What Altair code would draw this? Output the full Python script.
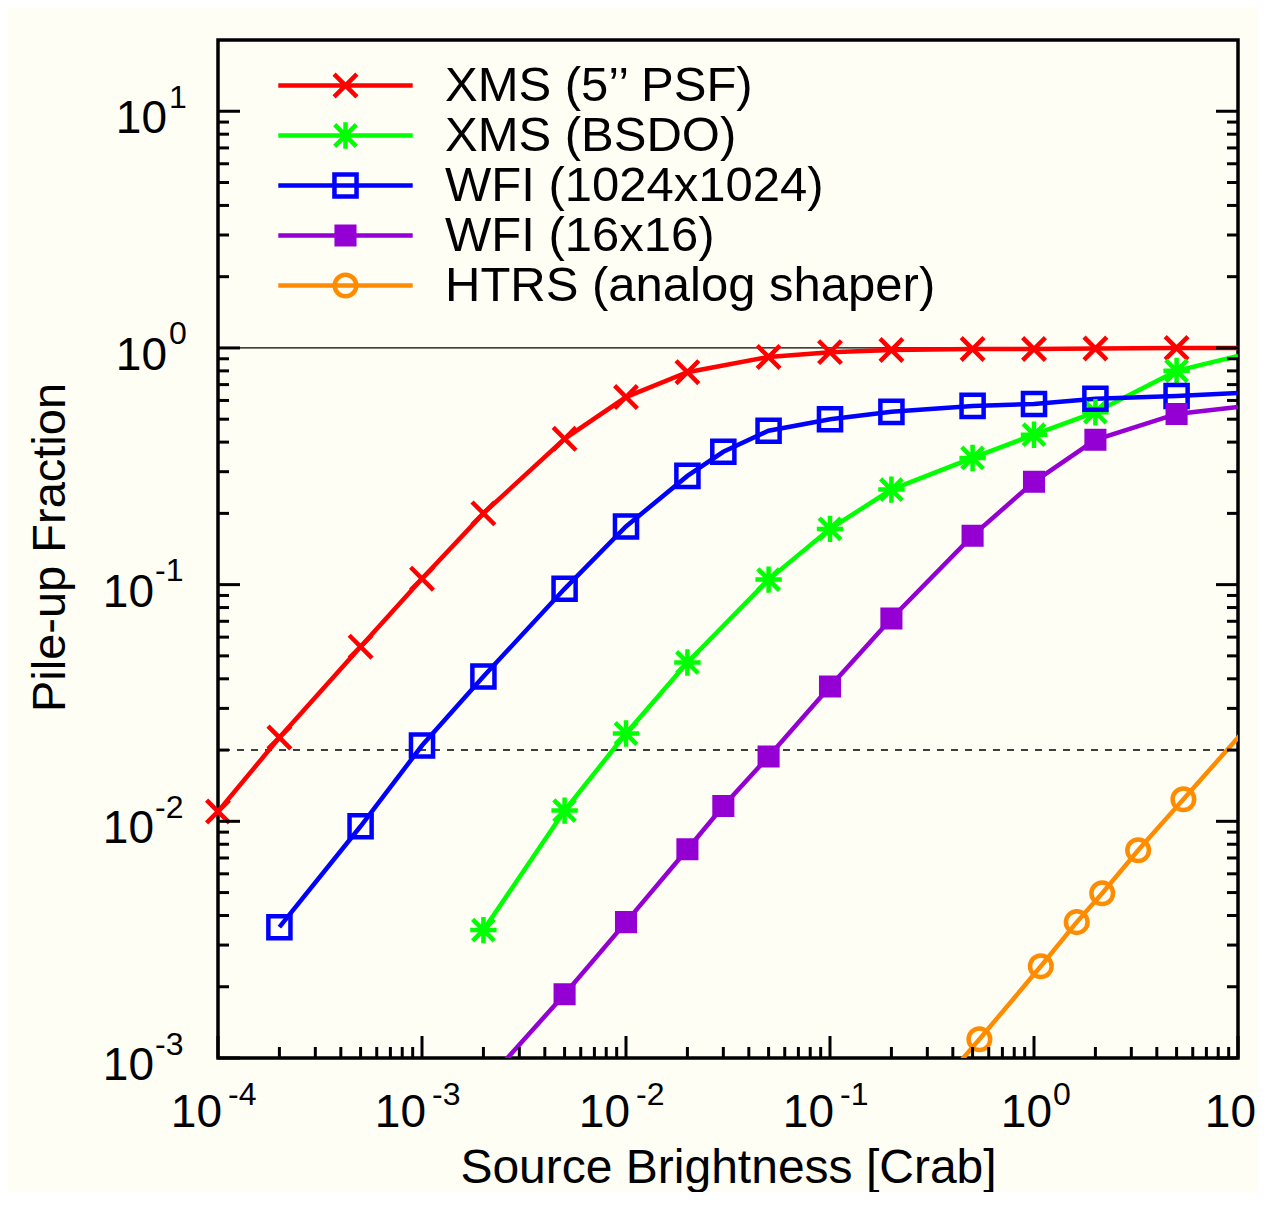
import altair as alt
import pandas as pd

FONT = "Liberation Sans"
W, H = 1020, 1018

# ---------------- data ----------------
names = ["XMS (5\u2019\u2019 PSF)", "XMS (BSDO)", "WFI (1024x1024)", "WFI (16x16)", "HTRS (analog shaper)"]
colors = ["#ff0000", "#00ff00", "#0000ff", "#9400d3", "#ff8c00"]

x_red = [1e-4, 2e-4, 5e-4, 1e-3, 2e-3, 5e-3, 1e-2, 2e-2, 5e-2, 0.1, 0.2, 0.5, 1, 2, 5, 10]
y_red = [0.011, 0.0226, 0.0547, 0.106, 0.200, 0.413, 0.62, 0.79, 0.916, 0.96, 0.98, 0.99, 0.99, 0.995, 1.0, 1.0]

x_green = [2e-3, 5e-3, 1e-2, 2e-2, 5e-2, 0.1, 0.2, 0.5, 1, 2, 5, 10]
y_green = [0.00347, 0.0111, 0.0235, 0.0469, 0.105, 0.172, 0.252, 0.343, 0.43, 0.535, 0.80, 0.925]

x_blue = [2e-4, 5e-4, 1e-3, 2e-3, 5e-3, 1e-2, 2e-2, 3e-2, 5e-2, 0.1, 0.2, 0.5, 1, 2, 5, 10]
y_blue = [0.00357, 0.00953, 0.0209, 0.0409, 0.096, 0.176, 0.288, 0.364, 0.447, 0.50, 0.537, 0.569, 0.58, 0.61, 0.627, 0.645]

x_purple = [2e-3, 5e-3, 1e-2, 2e-2, 3e-2, 5e-2, 0.1, 0.2, 0.5, 1, 2, 5, 10]
y_purple = [0.00077, 0.00186, 0.00375, 0.00762, 0.0116, 0.0188, 0.0371, 0.0719, 0.161, 0.272, 0.409, 0.526, 0.563]

x_orange = [0.27, 0.54, 1.08, 1.62, 2.16, 3.24, 5.4, 10.8]
y_orange = [0.0006, 0.0012, 0.00244, 0.00375, 0.00497, 0.00755, 0.0124, 0.0243]

ref_solid_y = [1.0]
ref_dash_y = [0.02]

x_major = [1e-4, 1e-3, 1e-2, 1e-1, 1, 10]
x_exp = ["-4", "-3", "-2", "-1", "0", "1"]
x_minor = [k * 10.0 ** d for d in range(-4, 1) for k in range(2, 10)]
y_major = [1e-3, 1e-2, 1e-1, 1, 10]
y_exp = ["-3", "-2", "-1", "0", "1"]
y_minor = [k * 10.0 ** d for d in range(-3, 1) for k in range(2, 10)]

# marker shapes (unit box -1..1)
m_x = "M-0.95,-0.95L0.95,0.95M-0.95,0.95L0.95,-0.95"
m_star = "M-0.9,-0.9L0.9,0.9M-0.9,0.9L0.9,-0.9M0,-1.1L0,1.1M-1.1,0L1.1,0"
m_osq = "M-0.92,-0.92L0.92,-0.92L0.92,0.92L-0.92,0.92Z"
m_fsq = ("M-0.92,-0.73L0.92,-0.73M-0.92,-0.44L0.92,-0.44M-0.92,-0.15L0.92,-0.15"
         "M-0.92,0.15L0.92,0.15M-0.92,0.44L0.92,0.44M-0.92,0.73L0.92,0.73")
m_circ = "M0.9,0A0.9,0.9,0,1,1,-0.9,0A0.9,0.9,0,1,1,0.9,0Z"
marker_paths = [m_x, m_star, m_osq, m_fsq, m_circ]
seg = "M-5.6,0L5.6,0"
legend_paths = [seg + p for p in marker_paths]

rows = []
for nm, xs, ys in zip(names, [x_red, x_green, x_blue, x_purple, x_orange],
                      [y_red, y_green, y_blue, y_purple, y_orange]):
    for xv, yv in zip(xs, ys):
        rows.append({"series": nm, "x": xv, "y": yv})
df = pd.DataFrame(rows)

xlab = pd.DataFrame({"v": x_major, "base": ["10"] * len(x_major), "exp": x_exp,
                     "neg": [e.startswith("-") for e in x_exp]})
ylab = pd.DataFrame({"v": y_major, "base": ["10"] * len(y_major), "exp": y_exp,
                     "neg": [e.startswith("-") for e in y_exp]})

# ---------------- scales / axes ----------------
xsc = alt.Scale(type="log", domain=[1e-4, 10], nice=False)
ysc = alt.Scale(type="log", domain=[1e-3, 20], nice=False)
xaxis = alt.Axis(title="Source Brightness [Crab]", labels=False, ticks=False, domain=False, grid=False,
                 titleFont=FONT, titleFontSize=48, titleFontWeight="normal", titleColor="black",
                 titleX=W / 2, titleY=124, titleAlign="center", titleBaseline="alphabetic")
yaxis = alt.Axis(title="Pile-up Fraction", labels=False, ticks=False, domain=False, grid=False,
                 titleFont=FONT, titleFontSize=47, titleFontWeight="normal", titleColor="black",
                 titleX=-168, titleY=507, titleAngle=270, titleAlign="center", titleBaseline="middle")


def X(f="x"):
    return alt.X(f + ":Q", scale=xsc, axis=xaxis)


def Y(f="y"):
    return alt.Y(f + ":Q", scale=ysc, axis=yaxis)


cscale = alt.Scale(domain=names, range=colors)

# ---------------- layers ----------------
ref1 = alt.Chart(pd.DataFrame({"y": ref_solid_y})).mark_rule(color="black", strokeWidth=1.3).encode(y=Y())
ref2 = alt.Chart(pd.DataFrame({"y": ref_dash_y})).mark_rule(
    color="black", strokeWidth=1.5, strokeDash=[7, 7]).encode(y=Y())

lines = alt.Chart(df).mark_line(strokeWidth=4.5, clip=True).encode(
    x=X(), y=Y(), color=alt.Color("series:N", scale=cscale, legend=None), detail="series:N")

points = alt.Chart(df).transform_filter("datum.x < 9.99 && datum.y >= 0.001").mark_point(
    filled=False, size=576, strokeWidth=4.5, opacity=1).encode(
    x=X(), y=Y(),
    color=alt.Color("series:N", scale=cscale, legend=None),
    shape=alt.Shape("series:N", scale=alt.Scale(domain=names, range=marker_paths), legend=None))

legend_def = alt.Legend(title=None, orient="none", legendX=103, legendY=21, direction="vertical",
                        symbolSize=576, symbolStrokeWidth=4.5, symbolOpacity=1,
                        labelFont=FONT, labelFontSize=49, labelColor="black", labelOffset=75,
                        rowPadding=-1.7, padding=0, symbolOffset=0, labelLimit=1000)
legend_layer = alt.Chart(df).transform_filter("false").mark_point(
    filled=False, size=576, strokeWidth=4.5, opacity=1).encode(
    x=X(), y=Y(),
    color=alt.Color("series:N", scale=alt.Scale(domain=names, range=colors), legend=legend_def),
    shape=alt.Shape("series:N", scale=alt.Scale(domain=names, range=legend_paths), legend=legend_def))

tick_style = dict(color="black", strokeWidth=3)
xmaj = pd.DataFrame({"v": x_major})
xmin = pd.DataFrame({"v": x_minor})
ymaj = pd.DataFrame({"v": y_major})
ymin = pd.DataFrame({"v": y_minor})
ticks = [
    alt.Chart(xmaj).mark_rule(**tick_style).encode(x=X("v"), y=alt.value(H), y2=alt.value(H - 22)),
    alt.Chart(xmin).mark_rule(**tick_style).encode(x=X("v"), y=alt.value(H), y2=alt.value(H - 11)),
    alt.Chart(ymaj).mark_rule(**tick_style).encode(y=Y("v"), x=alt.value(0), x2=alt.value(22)),
    alt.Chart(ymin).mark_rule(**tick_style).encode(y=Y("v"), x=alt.value(0), x2=alt.value(11)),
    alt.Chart(ymaj).mark_rule(**tick_style).encode(y=Y("v"), x=alt.value(W), x2=alt.value(W - 22)),
    alt.Chart(ymin).mark_rule(**tick_style).encode(y=Y("v"), x=alt.value(W), x2=alt.value(W - 11)),
]

txt = dict(font=FONT, color="black", baseline="alphabetic")
labels = []
for neg, bdx, edx in [(True, 4, 10), (False, 18, 19)]:
    flt = "datum.neg" if neg else "!datum.neg"
    labels.append(alt.Chart(xlab).transform_filter(flt).mark_text(
        align="right", dx=bdx, fontSize=46, **txt).encode(x=X("v"), y=alt.value(H + 69), text="base:N"))
    labels.append(alt.Chart(xlab).transform_filter(flt).mark_text(
        align="left", dx=edx, fontSize=32, **txt).encode(x=X("v"), y=alt.value(H + 47), text="exp:N"))
for neg, bx, ex in [(True, -64, -63), (False, -51, -49)]:
    flt = "datum.neg" if neg else "!datum.neg"
    labels.append(alt.Chart(ylab).transform_filter(flt).mark_text(
        align="right", dy=22, fontSize=46, **txt).encode(y=Y("v"), x=alt.value(bx), text="base:N"))
    labels.append(alt.Chart(ylab).transform_filter(flt).mark_text(
        align="left", dy=-3.5, fontSize=32, **txt).encode(y=Y("v"), x=alt.value(ex), text="exp:N"))

chart = alt.layer(ref1, ref2, lines, points, legend_layer, *ticks, *labels).resolve_scale(
    color="independent", shape="independent"
).properties(
    width=W, height=H,
    autosize=alt.AutoSizeParams(type="none"),
    padding={"left": 210, "top": 32, "right": 20, "bottom": 134},
    background="#fefef5",
).configure_view(stroke="black", strokeWidth=3.5)

chart.save("out.html", embed_options={"renderer": "svg", "actions": False})
